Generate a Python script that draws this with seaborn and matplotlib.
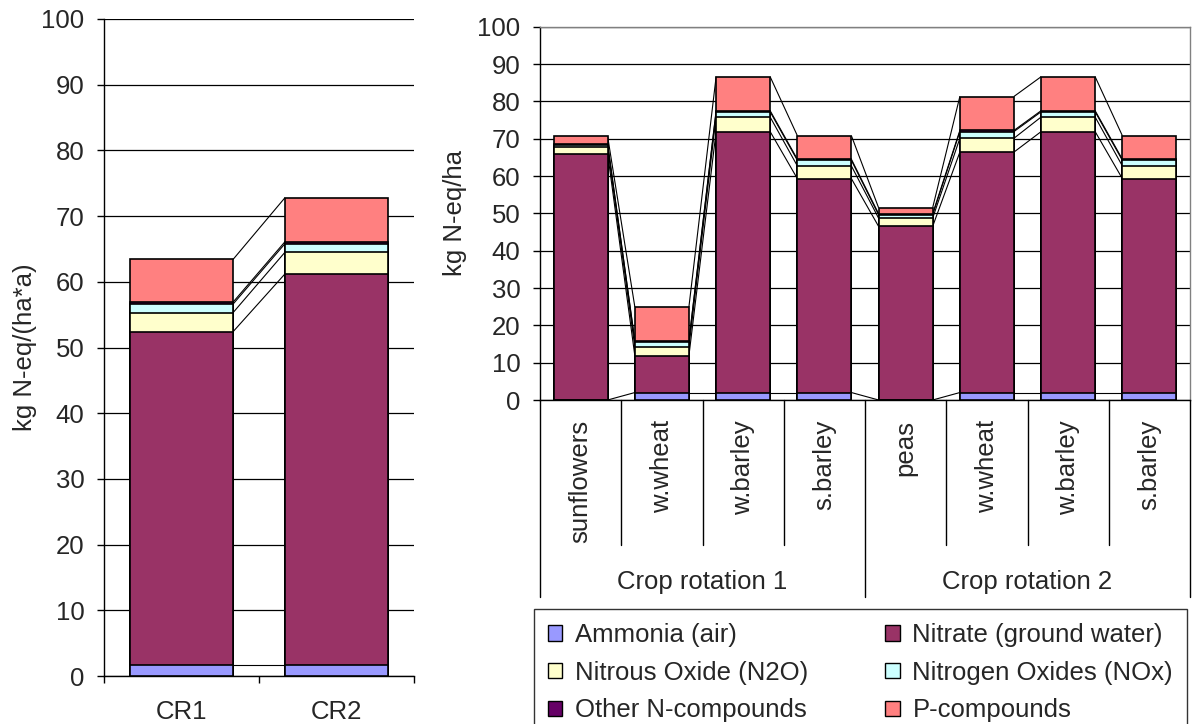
import numpy as np
import pandas as pd
import matplotlib
matplotlib.use("Agg")
import matplotlib.pyplot as plt
import matplotlib.transforms as mtransforms
from matplotlib.patches import Patch
from matplotlib.lines import Line2D
import seaborn as sns

# Emission categories (bottom to top of each stack) and their fill colours
series = ["Ammonia (air)", "Nitrate (ground water)", "Nitrous Oxide (N2O)",
          "Nitrogen Oxides (NOx)", "Other N-compounds", "P-compounds"]
colors = ["#9999FF", "#993366", "#FFFFCC", "#CCFFFF", "#660066", "#FF8080"]

# Average per crop rotation, kg N-eq/(ha*a)
rotations = ["CR1", "CR2"]
rot_ammonia = [1.7, 1.7]
rot_nitrate = [50.7, 59.5]
rot_n2o = [2.9, 3.3]
rot_nox = [1.3, 1.3]
rot_other = [0.3, 0.3]
rot_p = [6.5, 6.7]

# Per crop within each rotation, kg N-eq/ha
crops = ["sunflowers", "w.wheat", "w.barley", "s.barley",
         "peas", "w.wheat", "w.barley", "s.barley"]
crop_rotation = ["Crop rotation 1"] * 4 + ["Crop rotation 2"] * 4
crop_ammonia = [0.0, 2.0, 2.0, 2.0, 0.0, 2.0, 2.0, 2.0]
crop_nitrate = [66.0, 9.8, 69.9, 57.3, 46.5, 64.4, 69.9, 57.3]
crop_n2o = [1.7, 2.3, 3.9, 3.4, 2.2, 3.7, 3.9, 3.4]
crop_nox = [0.7, 1.5, 1.4, 1.5, 0.9, 1.8, 1.4, 1.5]
crop_other = [0.2, 0.3, 0.3, 0.3, 0.3, 0.3, 0.3, 0.3]
crop_p = [2.0, 9.0, 9.1, 6.3, 1.6, 9.1, 9.1, 6.3]

sns.set_theme(style="white")
plt.rcParams["font.family"] = ["Liberation Sans", "DejaVu Sans"]
FS = 18.5
BAR_W = 0.665

W_PX, H_PX = 1192, 724
fig = plt.figure(figsize=(W_PX / 100, H_PX / 100), dpi=100)


def px_axes(left, top, right, bottom):
    return fig.add_axes([left / W_PX, 1 - bottom / H_PX,
                         (right - left) / W_PX, (bottom - top) / H_PX])


def stacked(ax, keys, layers):
    cum = np.cumsum(np.array(layers, dtype=float), axis=0)
    # draw cumulative totals from the top layer down so each lower layer overlays
    for k in reversed(range(len(layers))):
        df = pd.DataFrame({"key": keys, "value": cum[k]})
        sns.barplot(data=df, x="key", y="value", order=keys, color=colors[k],
                    saturation=1, width=BAR_W, edgecolor="black", linewidth=1.2,
                    errorbar=None, ax=ax, zorder=3)
    # series lines joining each layer's top between neighbouring bars
    for k in range(len(layers)):
        for i in range(len(keys) - 1):
            ax.plot([i + BAR_W / 2, i + 1 - BAR_W / 2], [cum[k][i], cum[k][i + 1]],
                    color="black", lw=0.8, zorder=2, solid_capstyle="butt")


def style_y(ax):
    ax.set_ylim(0, 100)
    ax.set_yticks(np.arange(0, 101, 10))
    ax.set_axisbelow(True)
    ax.yaxis.grid(True, color="black", lw=0.9)
    ax.xaxis.grid(False)
    ax.tick_params(axis="y", which="major", direction="out", length=5, width=1,
                   color="black", pad=9, labelsize=FS, left=True)
    for s in ("left", "bottom"):
        ax.spines[s].set_color("black")
        ax.spines[s].set_linewidth(1)


# ---- left panel: rotation averages ----
ax1 = px_axes(104, 19, 414, 676)
stacked(ax1, rotations, [rot_ammonia, rot_nitrate, rot_n2o, rot_nox, rot_other, rot_p])
style_y(ax1)
ax1.set_xlim(-0.5, len(rotations) - 0.5)
ax1.set_xticks(np.arange(-0.5, len(rotations), 1.0), labels=[""] * (len(rotations) + 1))
ax1.set_xticks(range(len(rotations)), labels=rotations, minor=True)
ax1.tick_params(axis="x", which="major", direction="out", length=5, width=1,
                color="black", bottom=True)
ax1.tick_params(axis="x", which="minor", length=0, pad=17, labelsize=FS)
ax1.spines["top"].set_visible(False)
ax1.spines["right"].set_visible(False)
ax1.set_xlabel("")
ax1.set_ylabel("")
fig.text(25 / W_PX, 1 - 347 / H_PX, "kg N-eq/(ha*a)", rotation=90,
         ha="center", va="center", fontsize=FS)

# ---- right panel: individual crops ----
ax2 = px_axes(540, 26.7, 1190, 400)
fields = [f"{r} {c} {i}" for i, (r, c) in enumerate(zip(crop_rotation, crops))]
stacked(ax2, fields, [crop_ammonia, crop_nitrate, crop_n2o, crop_nox, crop_other, crop_p])
style_y(ax2)
ax2.set_xlim(-0.5, len(crops) - 0.5)
ax2.set_xticks([])
ax2.set_xlabel("")
ax2.set_ylabel("")
for s in ("top", "right"):
    ax2.spines[s].set_color("#808080")
    ax2.spines[s].set_linewidth(1)
fig.text(455 / W_PX, 1 - 213 / H_PX, "kg N-eq/ha", rotation=90,
         ha="center", va="center", fontsize=FS)

# category labels, separators and rotation group labels below the axis
sep_tf = mtransforms.blended_transform_factory(ax2.transData, fig.transFigure)
lab_tf = mtransforms.offset_copy(ax2.get_xaxis_transform(), fig=fig, y=-20, units="dots")
for i, c in enumerate(crops):
    ax2.text(i, 0, c, transform=lab_tf, rotation=90, ha="center", va="top",
             fontsize=FS)
groups = list(dict.fromkeys(crop_rotation))
bounds = np.arange(-0.5, len(crops), 1.0)
group_edges = [-0.5] + [i + 0.5 for i in range(len(crops) - 1)
                        if crop_rotation[i] != crop_rotation[i + 1]] + [len(crops) - 0.5]
for b in bounds:
    y_end = 597 if b in group_edges else 545
    fig.add_artist(Line2D([b, b], [1 - 400 / H_PX, 1 - y_end / H_PX],
                          transform=sep_tf, color="black", lw=1))
for g, lo, hi in zip(groups, group_edges[:-1], group_edges[1:]):
    fig.text((lo + hi) / 2, 1 - 582 / H_PX, g, transform=sep_tf,
             ha="center", va="center", fontsize=FS)

# legend, filled row by row
order = [0, 2, 4, 1, 3, 5]
handles = [Patch(facecolor=colors[k], edgecolor="black", lw=1, label=series[k])
           for k in order]
leg = fig.legend(handles=handles, ncol=2, loc="upper left",
                 bbox_to_anchor=(534 / W_PX, 1 - 609 / H_PX), borderaxespad=0,
                 frameon=True, fancybox=False, fontsize=FS, handlelength=0.55,
                 handleheight=0.55, handletextpad=0.5, columnspacing=3.0,
                 labelspacing=0.53, borderpad=0.55)
leg.get_frame().set_edgecolor("black")
leg.get_frame().set_linewidth(1)

fig.savefig("out.png", dpi=100)
